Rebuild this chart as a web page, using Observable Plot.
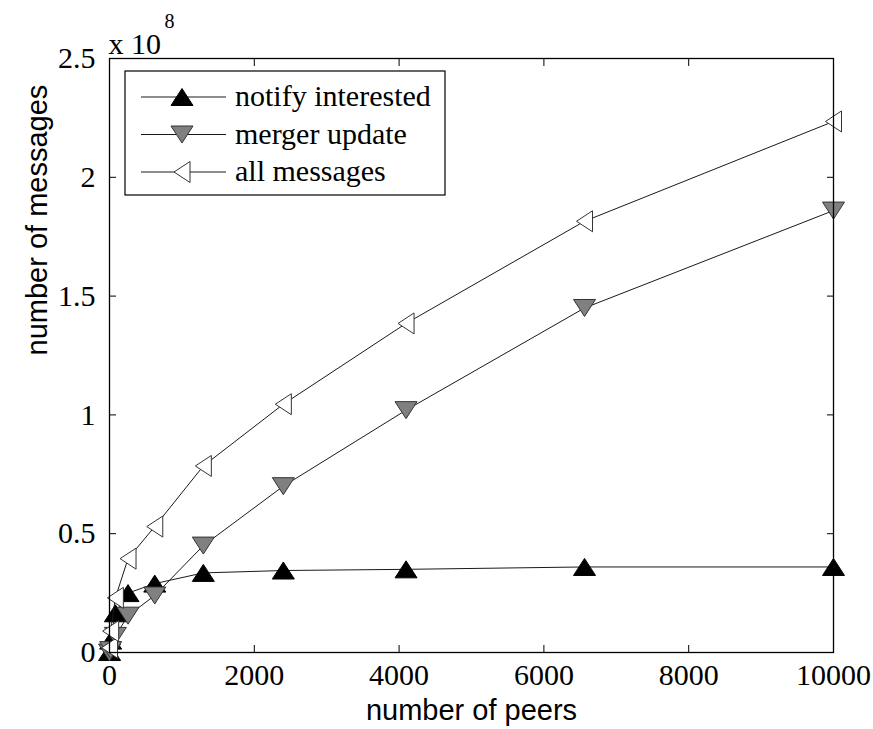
<!DOCTYPE html>
<html>
<head>
<meta charset="utf-8">
<script src="https://cdn.jsdelivr.net/npm/d3@7"></script>
<script src="https://cdn.jsdelivr.net/npm/@observablehq/plot@0.6"></script>
<style>
  html, body { margin: 0; padding: 0; background: white; }
  #wrap { position: relative; width: 873px; height: 729px; }
  #legend { position: absolute; left: 0; top: 0; pointer-events: none; }
</style>
</head>
<body>
<div id="wrap"></div>
<script>
// ---- data ----
const peers = [1, 16, 81, 256, 625, 1296, 2401, 4096, 6561, 10000];
const notifyInterested = [0.002e8, 0.05e8, 0.165e8, 0.25e8, 0.29e8, 0.335e8, 0.345e8, 0.35e8, 0.36e8, 0.36e8];
const mergerUpdate = [0.0, 0.01e8, 0.07e8, 0.155e8, 0.24e8, 0.45e8, 0.70e8, 1.02e8, 1.45e8, 1.86e8];
const allMessages = [0.02e8, 0.09e8, 0.23e8, 0.395e8, 0.53e8, 0.785e8, 1.045e8, 1.385e8, 1.815e8, 2.235e8];
const seriesNames = ["notify interested", "merger update", "all messages"];
const xTicks = [0, 2000, 4000, 6000, 8000, 10000];
const yTicks = [0, 0.5e8, 1e8, 1.5e8, 2e8, 2.5e8];
const yTickLabels = ["0", "0.5", "1", "1.5", "2", "2.5"];
const xLabel = "number of peers";
const yLabel = "number of messages";

// ---- marker shapes (MATLAB-like triangles) ----
const triUp = {draw(ctx, size) { const k = Math.sqrt(size / Math.PI) / 10;
  ctx.moveTo(0, -8.5 * k); ctx.lineTo(11 * k, 8.5 * k); ctx.lineTo(-11 * k, 8.5 * k); ctx.closePath(); }};
const triDown = {draw(ctx, size) { const k = Math.sqrt(size / Math.PI) / 10;
  ctx.moveTo(0, 8.5 * k); ctx.lineTo(11 * k, -8.5 * k); ctx.lineTo(-11 * k, -8.5 * k); ctx.closePath(); }};
const triLeft = {draw(ctx, size) { const k = Math.sqrt(size / Math.PI) / 10;
  ctx.moveTo(-8 * k, 0); ctx.lineTo(8 * k, -10.5 * k); ctx.lineTo(8 * k, 10.5 * k); ctx.closePath(); }};

const styles = [
  {symbol: triUp, fill: "#000000", stroke: "#000000"},
  {symbol: triDown, fill: "#808080", stroke: "#333333"},
  {symbol: triLeft, fill: "#ffffff", stroke: "#333333"}
];
const valueLists = [notifyInterested, mergerUpdate, allMessages];
const rows = [];
valueLists.forEach((vals, s) => peers.forEach((p, i) => rows.push({series: seriesNames[s], s, peers: p, value: vals[i]})));

const serif = "Liberation Serif, Times New Roman, serif";
const sans = "Liberation Sans, Arial, sans-serif";

const seriesMarks = [];
seriesNames.forEach((name, s) => {
  const data = rows.filter(d => d.s === s);
  seriesMarks.push(Plot.line(data, {x: "peers", y: "value", stroke: "#1a1a1a", strokeWidth: 1}));
  seriesMarks.push(Plot.dot(data, {x: "peers", y: "value", symbol: styles[s].symbol, r: 10,
    fill: styles[s].fill, stroke: styles[s].stroke, strokeWidth: 1}));
});

const chart = Plot.plot({
  width: 873,
  height: 729,
  marginLeft: 109,
  marginRight: 40,
  marginTop: 58,
  marginBottom: 77,
  x: {domain: [0, 10000]},
  y: {domain: [0, 2.5e8]},
  style: {fontFamily: serif, background: "white", color: "black", overflow: "visible"},
  marks: [
    // inward ticks on all four sides
    Plot.axisX(xTicks, {anchor: "bottom", tickSize: -7, tickFormat: () => "", label: null}),
    Plot.axisX(xTicks, {anchor: "top", tickSize: -7, tickFormat: () => "", label: null}),
    Plot.axisY(yTicks, {anchor: "left", tickSize: -7, tickFormat: () => "", label: null}),
    Plot.axisY(yTicks, {anchor: "right", tickSize: -7, tickFormat: () => "", label: null}),
    // tick labels
    Plot.axisX(xTicks, {anchor: "bottom", tickSize: 0, tickPadding: 11, fontSize: 30, fontFamily: serif, label: null, tickFormat: d => String(d)}),
    Plot.axisY(yTicks, {anchor: "left", tickSize: 0, tickPadding: 14, fontSize: 30, fontFamily: serif, label: null,
      tickFormat: d => yTickLabels[yTicks.indexOf(d)]}),
    ...seriesMarks,
    Plot.frame({stroke: "black", strokeWidth: 1.3}),
    // axis titles
    Plot.text([xLabel], {frameAnchor: "bottom", dy: 67, fontSize: 29, fontFamily: sans, text: d => d}),
    Plot.text([yLabel], {frameAnchor: "left", dx: -72, rotate: -90, fontSize: 29, fontFamily: sans, text: d => d}),
    // exponent
    Plot.text(["x 10"], {frameAnchor: "top-left", textAnchor: "start", lineAnchor: "bottom", dx: -1, dy: -5, fontSize: 30, fontFamily: serif, text: d => d}),
    Plot.text(["8"], {frameAnchor: "top-left", textAnchor: "start", lineAnchor: "bottom", dx: 55, dy: -31, fontSize: 20, fontFamily: serif, text: d => d})
  ]
});

const wrap = document.getElementById("wrap");
wrap.appendChild(chart);

// ---- legend (MATLAB-style box, upper left inside axes) ----
const lg = d3.select(wrap).append("svg").attr("id", "legend").attr("width", 873).attr("height", 729);
const box = {x: 125, y: 71, w: 320, h: 124};
lg.append("rect").attr("x", box.x).attr("y", box.y).attr("width", box.w).attr("height", box.h)
  .attr("fill", "white").attr("stroke", "black").attr("stroke-width", 1.2);
seriesNames.forEach((name, s) => {
  const cy = box.y + 26 + s * 37.5;
  const g = lg.append("g");
  g.append("line").attr("x1", box.x + 16).attr("x2", box.x + 101).attr("y1", cy).attr("y2", cy)
    .attr("stroke", "#1a1a1a").attr("stroke-width", 1);
  g.append("path").attr("transform", `translate(${box.x + 57},${cy})`)
    .attr("d", d3.symbol(styles[s].symbol, Math.PI * 100)())
    .attr("fill", styles[s].fill).attr("stroke", styles[s].stroke).attr("stroke-width", 1);
  g.append("text").attr("x", box.x + 110).attr("y", cy).attr("dy", "0.3em")
    .attr("font-family", serif).attr("font-size", 30).attr("fill", "black").text(name);
});
</script>
</body>
</html>
